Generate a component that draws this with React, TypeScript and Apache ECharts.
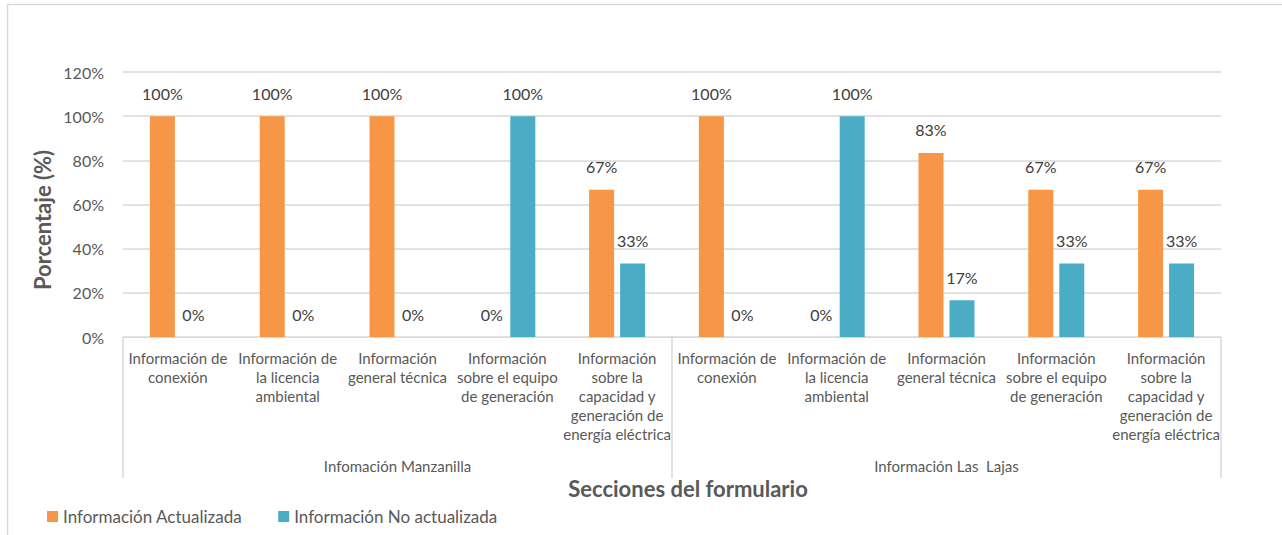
import React, { useEffect, useRef } from "react";
import * as echarts from "echarts";

const categories = [
  "Información de\nconexión",
  "Información de\nla licencia\nambiental",
  "Información\ngeneral técnica",
  "Información\nsobre el equipo\nde generación",
  "Información\nsobre la\ncapacidad y\ngeneración de\nenergía eléctrica",
  "Información de\nconexión",
  "Información de\nla licencia\nambiental",
  "Información\ngeneral técnica",
  "Información\nsobre el equipo\nde generación",
  "Información\nsobre la\ncapacidad y\ngeneración de\nenergía eléctrica",
];
const groups = ["Infomación Manzanilla", "Información Las  Lajas"];
const actualizada = [100, 100, 100, 0, 66.67, 100, 0, 83.33, 66.67, 66.67];
const noActualizada = [0, 0, 0, 100, 33.33, 0, 100, 16.67, 33.33, 33.33];
const seriesNames = ["Información Actualizada", "Información No actualizada"];
const yTicks = { min: 0, max: 120, interval: 20 };

const FONT = "Lato, 'Noto Sans', sans-serif";
const GRID = "#D9D9D9";

export default function App() {
  const ref = useRef<HTMLDivElement>(null);
  useEffect(() => {
    if (!ref.current) return;
    const chart = echarts.init(ref.current, null, { renderer: "svg" });
    const label = {
      show: true,
      position: "top",
      distance: 15,
      color: "#404040",
      fontSize: 16,
      fontFamily: FONT,
      formatter: (p: any) => Math.round(p.value) + "%",
    };
    chart.setOption({
      animation: false,
      backgroundColor: "#fff",
      textStyle: { fontFamily: FONT },
      grid: { left: 123, right: 61, top: 72, bottom: 198 },
      legend: {
        left: 42,
        top: 503,
        itemWidth: 11,
        itemHeight: 11,
        itemGap: 36,
        icon: "rect",
        textStyle: { color: "#595959", fontSize: 17, fontFamily: FONT },
        data: seriesNames,
      },
      xAxis: [
        {
          type: "category",
          data: categories,
          axisLine: { show: true, lineStyle: { color: GRID, width: 1 } },
          axisTick: { show: false },
          axisLabel: {
            interval: 0,
            color: "#595959",
            fontSize: 15,
            lineHeight: 19,
            margin: 11,
            fontFamily: FONT,
          },
          splitLine: { show: false },
        },
        {
          type: "category",
          data: groups,
          position: "bottom",
          axisLine: { show: false },
          axisTick: {
            show: true,
            length: 141,
            interval: 0,
            lineStyle: { color: GRID, width: 1.5 },
          },
          axisLabel: {
            interval: 0,
            color: "#595959",
            fontSize: 15,
            margin: 121,
            fontFamily: FONT,
          },
          splitLine: { show: false },
        },
      ],
      yAxis: {
        type: "value",
        min: yTicks.min,
        max: yTicks.max,
        interval: yTicks.interval,
        axisLine: { show: false },
        axisTick: { show: false },
        axisLabel: {
          formatter: "{value}%",
          color: "#595959",
          fontSize: 16,
          margin: 19,
          fontFamily: FONT,
        },
        splitLine: { lineStyle: { color: GRID, width: 1.5 } },
      },
      series: [
        {
          name: seriesNames[0],
          type: "bar",
          xAxisIndex: 0,
          data: actualizada,
          barWidth: 25,
          barGap: "24%",
          itemStyle: { color: "#F79646" },
          label,
        },
        {
          name: seriesNames[1],
          type: "bar",
          xAxisIndex: 0,
          data: noActualizada,
          barWidth: 25,
          barGap: "24%",
          itemStyle: { color: "#4BACC6" },
          label,
        },
      ],
      graphic: [
        {
          type: "rect",
          shape: { x: 7.5, y: 4.5, width: 1300, height: 600 },
          style: { fill: "none", stroke: GRID, lineWidth: 1.5 },
          silent: true,
          z: -10,
        },
        {
          type: "text",
          x: 688,
          y: 488,
          style: {
            text: "Secciones del formulario",
            fill: "#595959",
            font: `bold 22px ${FONT}`,
            align: "center",
            verticalAlign: "middle",
          },
        },
        {
          type: "text",
          x: 42,
          y: 220,
          rotation: Math.PI / 2,
          style: {
            text: "Porcentaje (%)",
            fill: "#595959",
            font: `bold 22px ${FONT}`,
            align: "center",
            verticalAlign: "middle",
          },
        },
      ],
    });
    return () => chart.dispose();
  }, []);
  return (
    <div
      ref={ref}
      style={{ position: "fixed", left: 0, top: 0, width: 1282, height: 535 }}
    />
  );
}
